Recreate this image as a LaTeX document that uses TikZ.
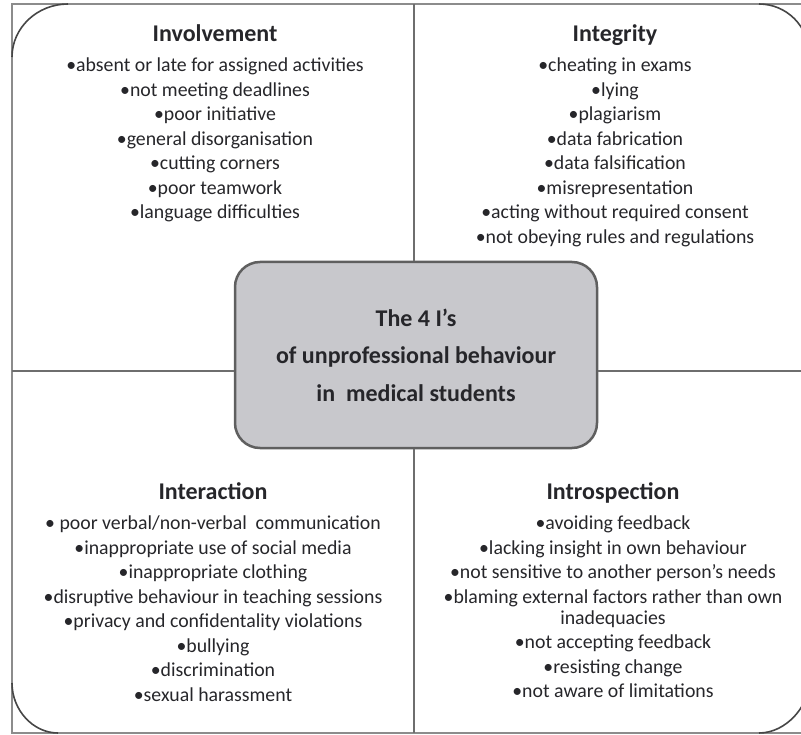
\documentclass[tikz,border=0pt]{standalone}
\usepackage{fontspec}
\usepackage{xcolor}
\setmainfont{Carlito}
\usetikzlibrary{positioning}
\definecolor{framegray}{RGB}{140,140,140}
\definecolor{linegray}{RGB}{110,110,110}
\definecolor{arcgray}{RGB}{70,70,70}
\definecolor{boxfill}{RGB}{200,200,204}
\definecolor{boxline}{RGB}{95,95,95}
\definecolor{inktext}{RGB}{38,38,42}
\tikzset{
  frameline/.style={draw=framegray, line width=2pt},
  divider/.style={draw=linegray, line width=2pt},
  cornerarc/.style={draw=arcgray, line width=1.6pt},
  heading/.style={font=\fontsize{24}{29}\selectfont\bfseries, text=inktext,
    inner sep=0pt, text height=16pt, text depth=5pt},
  items/.style={font=\fontsize{19.8}{24.5}\selectfont, text=inktext,
    align=center, inner sep=0pt},
  core/.style={draw=boxline, line width=2.5pt, fill=boxfill, rounded corners=25pt,
    minimum width=362pt, minimum height=186pt, align=center, text=inktext,
    font=\fontsize{24}{37.5}\selectfont\bfseries}
}

\begin{document}
\begin{tikzpicture}[x=1pt,y=-1pt]
        \useasboundingbox (0,0) rectangle (801,735);
        % Draw the frame
        \draw[frameline] (12,4) rectangle (809,733);
        % Draw the rounded corners
        \draw[cornerarc] (12,57) .. controls (12,28) and (37,4) .. (68,4);
        \draw[cornerarc] (759,4) .. controls (786.6,4) and (809,26.4) .. (809,54);
        \draw[cornerarc] (12,683) .. controls (12,710) and (33,733) .. (58,733);
        \draw[cornerarc] (759,733) .. controls (786.6,733) and (809,705.4) .. (809,683);
        % The centre box
        \node[core] (core) at (416,355) {The 4 I's\\of unprofessional behaviour\\in\ \ medical students};
        % Draw the dividers
        \coordinate (ntop) at (414,4);
        \coordinate (nbot) at (414,733);
        \coordinate (wmid) at (12,371);
        \coordinate (emid) at (809,371);
        \draw[divider] (ntop) -- (ntop |- core.north);
        \draw[divider] (core.south -| nbot) -- (nbot);
        \draw[divider] (wmid) -- (wmid -| core.west);
        \draw[divider] (core.east |- emid) -- (emid);
        % Involvement
        \node[heading] (inv) at (215,36) {Involvement};
        \node[items, below=11pt of inv] (invlist) {\textbullet absent or late for assigned activities\\
          \textbullet not meeting deadlines\\ \textbullet poor initiative\\
          \textbullet general disorganisation\\ \textbullet cutting corners\\
          \textbullet poor teamwork\\ \textbullet language difficulties};
        % Integrity
        \node[heading] (integ) at (615,36) {Integrity};
        \node[items, below=11pt of integ] (integlist) {\textbullet cheating in exams\\
          \textbullet lying\\ \textbullet plagiarism\\ \textbullet data fabrication\\
          \textbullet data falsification\\ \textbullet misrepresentation\\
          \textbullet acting without required consent\\
          \textbullet not obeying rules and regulations};
        % Interaction
        \node[heading] (inter) at (213,494) {Interaction};
        \node[items, below=11pt of inter] (interlist) {\textbullet\ poor verbal/non-verbal\ \ communication\\
          \textbullet inappropriate use of social media\\ \textbullet inappropriate clothing\\
          \textbullet disruptive behaviour in teaching sessions\\
          \textbullet privacy and confidentality violations\\
          \textbullet bullying\\ \textbullet discrimination\\ \textbullet sexual harassment};
        % Introspection
        \node[heading] (intro) at (613,494) {Introspection};
        \node[items, below=11pt of intro] (introlist) {\textbullet avoiding feedback\\
          \textbullet lacking insight in own behaviour\\
          \textbullet not sensitive to another person's needs\\
          \textbullet blaming external factors rather than own\\[-3.5pt] inadequacies\\
          \textbullet not accepting feedback\\ \textbullet resisting change\\
          \textbullet not aware of limitations};
    \end{tikzpicture}
\end{document}
